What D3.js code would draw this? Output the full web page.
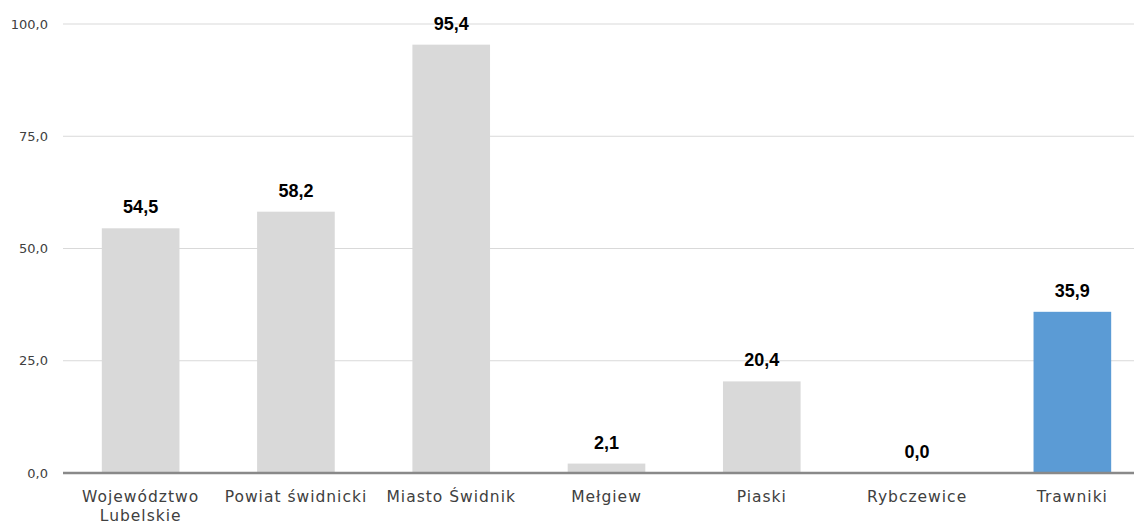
<!doctype html>
<html>
<head>
<meta charset="utf-8">
<script src="https://cdn.jsdelivr.net/npm/d3@7"></script>
<style>
  body { margin: 0; background: #fff; }
  svg text { font-family: "DejaVu Sans", sans-serif; }
</style>
</head>
<body>
<div id="main"></div>
<script>
var categories = ["Województwo Lubelskie", "Powiat świdnicki", "Miasto Świdnik", "Mełgiew", "Piaski", "Rybczewice", "Trawniki"];
var values = [54.5, 58.2, 95.4, 2.1, 20.4, 0.0, 35.9];
var highlight = ["Trawniki"];
var yTicks = [0, 25, 50, 75, 100];

var width = 1134, height = 526;
var margin = {top: 24, right: 0, bottom: 53, left: 63};
var innerW = width - margin.left - margin.right;
var innerH = height - margin.top - margin.bottom;

var fmt = function(v) { return d3.format(".1f")(v).replace(".", ","); };

var svg = d3.select("#main").append("svg")
  .attr("width", width)
  .attr("height", height);

var g = svg.append("g")
  .attr("transform", "translate(" + margin.left + "," + margin.top + ")");

// plot area runs a bit past the right edge of the picture
var x = d3.scaleBand().domain(categories).range([0, 1087]).paddingInner(0.5).paddingOuter(0.25);
var y = d3.scaleLinear().domain([0, 100]).range([innerH, 0]);

// gridlines
g.selectAll(".grid").data(yTicks.filter(function(d) { return d > 0; }))
  .enter().append("line")
  .attr("x1", 0).attr("x2", innerW)
  .attr("y1", function(d) { return y(d); })
  .attr("y2", function(d) { return y(d); })
  .attr("stroke", "#d9d9d9")
  .attr("stroke-width", 1);

// y tick labels
g.selectAll(".ytick").data(yTicks)
  .enter().append("text")
  .attr("x", -15)
  .attr("y", function(d) { return y(d); })
  .attr("dy", "0.35em")
  .attr("text-anchor", "end")
  .attr("font-size", 13)
  .attr("fill", "#404040")
  .text(fmt);

// bars
g.selectAll(".bar").data(values)
  .enter().append("rect")
  .attr("x", function(d, i) { return x(categories[i]); })
  .attr("width", x.bandwidth())
  .attr("y", function(d) { return y(d); })
  .attr("height", function(d) { return innerH - y(d); })
  .attr("fill", function(d, i) { return highlight.indexOf(categories[i]) >= 0 ? "#5b9bd5" : "#d9d9d9"; });

// value labels
g.selectAll(".val").data(values)
  .enter().append("text")
  .attr("x", function(d, i) { return x(categories[i]) + x.bandwidth() / 2; })
  .attr("y", function(d) { return y(d) - 15; })
  .attr("text-anchor", "middle")
  .attr("font-size", 18)
  .attr("font-weight", "bold")
  .attr("fill", "#000")
  .style("font-family", "'Liberation Sans', Arial, sans-serif")
  .text(fmt);

// x axis line
g.append("line")
  .attr("x1", 0).attr("x2", innerW)
  .attr("y1", innerH).attr("y2", innerH)
  .attr("stroke", "#898989")
  .attr("stroke-width", 2.5);

// category labels (split long one onto two lines)
var lines = {"Województwo Lubelskie": ["Województwo", "Lubelskie"]};
var cat = g.selectAll(".cat").data(categories)
  .enter().append("text")
  .attr("text-anchor", "middle")
  .attr("font-size", 15.5)
  .attr("letter-spacing", 1)
  .attr("fill", "#404040")
  .attr("transform", function(d) { return "translate(" + (x(d) + x.bandwidth() / 2) + "," + (innerH + 29) + ")"; });

cat.each(function(d) {
  var parts = lines[d] || [d];
  var t = d3.select(this);
  parts.forEach(function(p, i) {
    t.append("tspan").attr("x", 0).attr("y", i * 19).text(p);
  });
});
</script>
</body>
</html>
